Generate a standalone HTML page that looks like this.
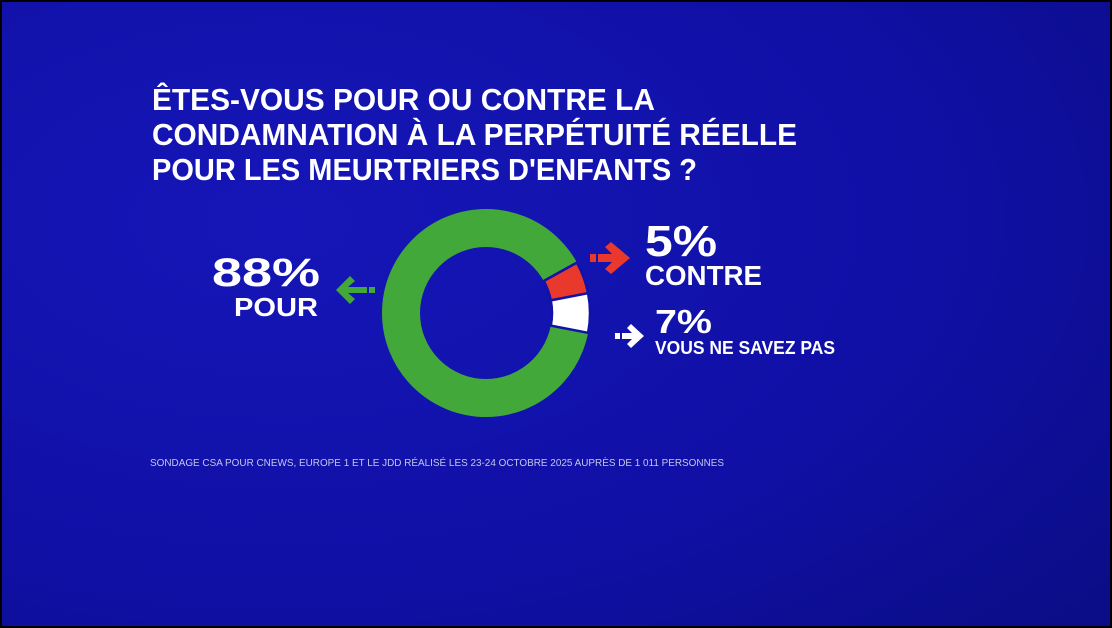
<!DOCTYPE html>
<html><head><meta charset="utf-8"><style>
html,body{margin:0;padding:0;background:#000;}
svg{display:block}
text{font-family:"Liberation Sans",sans-serif;font-weight:bold;fill:#fff}
</style></head><body>
<svg width="1112" height="628" viewBox="0 0 1112 628" xmlns="http://www.w3.org/2000/svg">
<defs>
<radialGradient id="bg" cx="0.25" cy="0.35" r="0.95">
<stop offset="0" stop-color="#1616b8"/>
<stop offset="0.6" stop-color="#1010a6"/>
<stop offset="1" stop-color="#0b0d88"/>
</radialGradient>
</defs>
<rect x="0" y="0" width="1112" height="628" fill="#000"/>
<rect x="2" y="2" width="1108" height="624" fill="url(#bg)"/>
<g font-size="31">
<text x="152" y="110" textLength="503" lengthAdjust="spacingAndGlyphs">ÊTES-VOUS POUR OU CONTRE LA</text>
<text x="152" y="145" textLength="645" lengthAdjust="spacingAndGlyphs">CONDAMNATION À LA PERPÉTUITÉ RÉELLE</text>
<text x="152" y="180" textLength="545" lengthAdjust="spacingAndGlyphs">POUR LES MEURTRIERS D'ENFANTS ?</text>
</g>
<g transform="translate(486,313)">
<circle r="85" fill="none" stroke="#43a83a" stroke-width="38"/>
<path d="M 90.9 -50.4 A 104 104 0 0 1 102.1 -19.8 L 64.8 -12.6 A 66 66 0 0 0 57.7 -32.0 Z" fill="#e8392c" stroke="#1212a8" stroke-width="2.5"/>
<path d="M 102.1 -19.8 A 104 104 0 0 1 102.1 19.8 L 64.8 12.6 A 66 66 0 0 0 64.8 -12.6 Z" fill="#ffffff" stroke="#1212a8" stroke-width="2.5"/>
</g>
<text x="320" y="286" font-size="40" text-anchor="end" textLength="108" lengthAdjust="spacingAndGlyphs">88%</text>
<text x="318" y="316" font-size="26" text-anchor="end" textLength="84" lengthAdjust="spacingAndGlyphs">POUR</text>
<g fill="#43a83a">
<polygon points="336,290 350,276 355,281 348,287 367,287 367,293 348,293 355,299 350,304"/>
<rect x="369" y="287" width="6" height="6"/>
</g>
<g fill="#e8392c">
<rect x="590" y="254" width="6" height="8"/>
<polygon points="598,254 612,254 605,247 611,242 630,258 611,274 605,269 612,262 598,262"/>
</g>
<text x="645" y="256" font-size="44" textLength="72" lengthAdjust="spacingAndGlyphs">5%</text>
<text x="645" y="285" font-size="28" textLength="117" lengthAdjust="spacingAndGlyphs">CONTRE</text>
<g fill="#fff">
<rect x="615" y="333" width="5" height="6"/>
<polygon points="622,333 632,333 627,328 631,324 644,336 631,348 627,344 632,339 622,339"/>
</g>
<text x="655" y="333" font-size="33" textLength="57" lengthAdjust="spacingAndGlyphs">7%</text>
<text x="655" y="354" font-size="18" textLength="180" lengthAdjust="spacingAndGlyphs">VOUS NE SAVEZ PAS</text>
<text x="150" y="466" font-size="10" style="fill:#c4c6ea;font-weight:normal" textLength="574" lengthAdjust="spacingAndGlyphs">SONDAGE CSA POUR CNEWS, EUROPE 1 ET LE JDD RÉALISÉ LES 23-24 OCTOBRE 2025 AUPRÈS DE 1 011 PERSONNES</text>
</svg>
</body></html>
